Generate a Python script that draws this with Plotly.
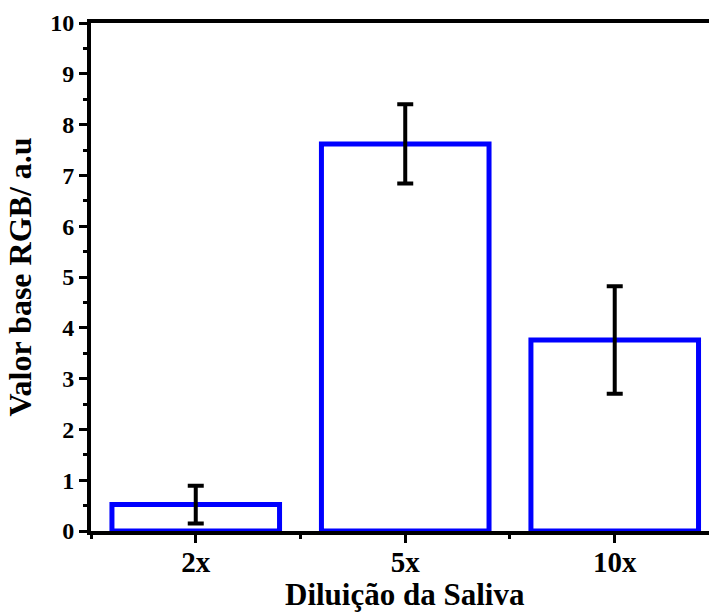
import plotly.graph_objects as go

categories = ["2x", "5x", "10x"]
positions = [0, 1, 2]
values = [0.52, 7.62, 3.76]
errors = [0.37, 0.78, 1.06]
y_ticks = [0, 1, 2, 3, 4, 5, 6, 7, 8, 9, 10]

FONT = "Liberation Serif"

fig = go.Figure()
fig.add_trace(go.Bar(
    x=positions, y=values, width=0.8,
    marker=dict(color="white", line=dict(color="#0000ff", width=5)),
    error_y=dict(type="data", array=errors, visible=True, color="black",
                 thickness=4, width=8),
))

fig.update_layout(
    width=709, height=614,
    margin=dict(l=91, r=0, t=23, b=83),
    plot_bgcolor="white", paper_bgcolor="white",
    showlegend=False,
    font=dict(family=FONT, size=20, color="black"),
)
fig.add_annotation(
    text="<b>Diluição da Saliva</b>", xref="x", yref="paper",
    x=1, y=-0.1614, xanchor="center", yanchor="bottom", showarrow=False,
    font=dict(family=FONT, size=31, color="black"), borderpad=0,
)
fig.update_xaxes(
    range=[-0.5, 2.45], tickmode="array", tickvals=positions, ticktext=categories,
    showline=True, linecolor="black", linewidth=4, mirror=True,
    ticks="outside", ticklen=8, tickwidth=3, tickcolor="black",
    showgrid=False, zeroline=False, ticklabelstandoff=-6,
    tickfont=dict(family=FONT, size=29, color="black", weight="bold"),
    minor=dict(tickmode="array", tickvals=[-0.5, 0.5, 1.5], ticks="outside",
               ticklen=4, tickwidth=3, tickcolor="black", showgrid=False),
)
fig.update_yaxes(
    range=[0, 10], tickmode="array", tickvals=y_ticks,
    showline=True, linecolor="black", linewidth=4, mirror=False,
    ticks="outside", ticklen=8, tickwidth=3, tickcolor="black",
    showgrid=False, zeroline=False,
    tickfont=dict(family=FONT, size=24, color="black", weight="bold"),
    minor=dict(dtick=0.5, ticks="outside", ticklen=4, tickwidth=3,
               tickcolor="black", showgrid=False),
    title=dict(text="<b>Valor base RGB/ a.u</b>", font=dict(family=FONT, size=32), standoff=10),
)

fig.write_html("out.html")
